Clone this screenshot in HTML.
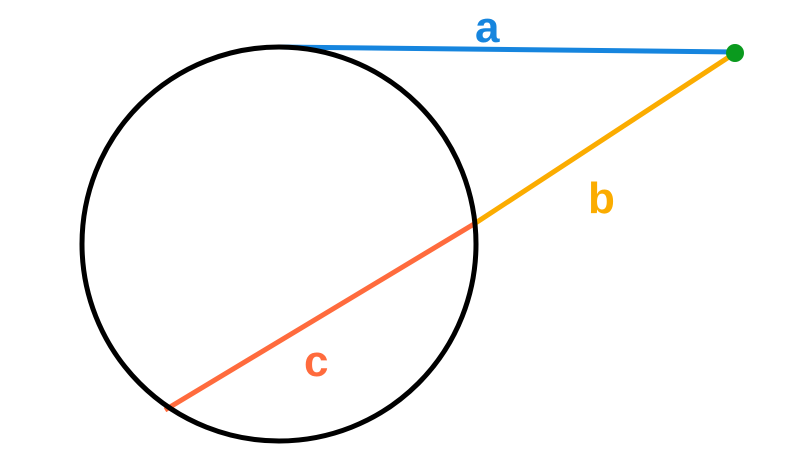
<!DOCTYPE html>
<html><head><style>body{margin:0;background:#fff}</style></head><body>
<svg width="795" height="457" xmlns="http://www.w3.org/2000/svg" style="display:block">
<rect width="795" height="457" fill="#fff"/>
<line x1="279" y1="47" x2="735" y2="52" stroke="#1685de" stroke-width="5"/>
<line x1="735" y1="53" x2="474" y2="224" stroke="#fbac00" stroke-width="5"/>
<line x1="474" y1="224" x2="165" y2="410" stroke="#ff6b3d" stroke-width="5"/>
<circle cx="279" cy="244" r="197" fill="none" stroke="#000" stroke-width="5"/>
<circle cx="735" cy="53" r="9" fill="#0a9a1e"/>
<g font-family="Liberation Sans, sans-serif" font-weight="bold" font-size="44">
<text x="475" y="42" fill="#1685de">a</text>
<text x="588" y="213" fill="#fbac00">b</text>
<text x="304" y="376" fill="#ff6b3d">c</text>
</g>
</svg>
</body></html>
